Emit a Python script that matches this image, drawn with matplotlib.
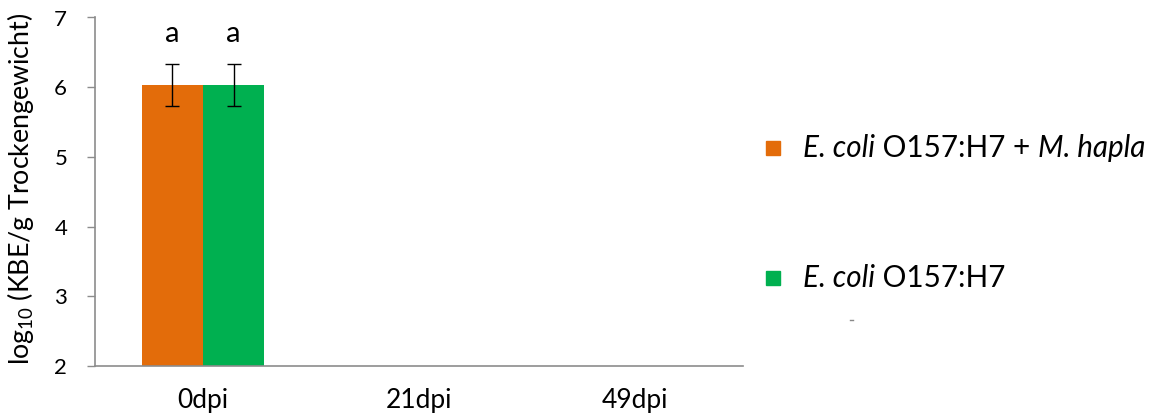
import matplotlib
matplotlib.use("Agg")
import matplotlib.pyplot as plt
import numpy as np

plt.rcParams['font.family'] = ['Lato', 'DejaVu Sans']
plt.rcParams['mathtext.fontset'] = 'custom'
plt.rcParams['mathtext.rm'] = 'Lato'
plt.rcParams['mathtext.it'] = 'Lato:italic'

categories = ["0dpi", "21dpi", "49dpi"]
with_hapla = [6.03, np.nan, np.nan]
with_hapla_err = [0.30, np.nan, np.nan]
ecoli_only = [6.03, np.nan, np.nan]
ecoli_only_err = [0.30, np.nan, np.nan]
letters_hapla = ["a", "", ""]
letters_ecoli = ["a", "", ""]

orange = "#E36C0A"
green = "#00B050"
axis_gray = "#8C8C8C"

W, H = 1149, 419
fig = plt.figure(figsize=(W / 100, H / 100), dpi=100)
ax = fig.add_axes([95 / W, 53 / H, 648 / W, 348.5 / H])

x = np.arange(len(categories))
w = 0.283
base = 2
ax.bar(x - w / 2, np.array(with_hapla) - base, w, bottom=base, color=orange, zorder=2)
ax.bar(x + w / 2, np.array(ecoli_only) - base, w, bottom=base, color=green, zorder=2)
ax.errorbar(x - w / 2, with_hapla, yerr=with_hapla_err, fmt="none",
            ecolor="black", elinewidth=1, capsize=5, capthick=1, zorder=3)
ax.errorbar(x + w / 2, ecoli_only, yerr=ecoli_only_err, fmt="none",
            ecolor="black", elinewidth=1, capsize=5, capthick=1, zorder=3)

for xi, lab in zip(x - w / 2, letters_hapla):
    if lab:
        ax.text(xi, 6.76, lab, ha="center", va="center", fontsize=21)
for xi, lab in zip(x + w / 2, letters_ecoli):
    if lab:
        ax.text(xi, 6.76, lab, ha="center", va="center", fontsize=21)

ax.set_xlim(-0.5, len(categories) - 0.5)
ax.set_ylim(2, 7)
ax.set_yticks(range(2, 8))
ax.set_xticks(x)
ax.set_xticklabels(categories, fontsize=19)
ax.tick_params(axis="x", length=0, pad=16)
ax.tick_params(axis="y", length=6, width=1, color=axis_gray, labelsize=16, pad=14)
for s in ("top", "right"):
    ax.spines[s].set_visible(False)
for s in ("left", "bottom"):
    ax.spines[s].set_color(axis_gray)
    ax.spines[s].set_linewidth(1.2)

fig.text(21 / W, 1 - 189 / H, r"log$_{10}$ (KBE/g Trockengewicht)", fontsize=19.3,
         rotation=90, ha="center", va="center")

# legend drawn as figure-level markers and texts
renderer = fig.canvas.get_renderer()


def legend_entry(y_px, color, parts):
    fig.patches.append(plt.Rectangle((766 / W, 1 - (y_px + 7) / H), 14 / W, 14 / H,
                                     transform=fig.transFigure, color=color))
    xpos = 803 / W
    for txt, style in parts:
        t = fig.text(xpos, 1 - y_px / H, txt, fontsize=21.3, style=style,
                     va="center", ha="left")
        bb = t.get_window_extent(renderer=renderer)
        xpos = bb.x1 / W


legend_entry(148, orange, [("E. coli", "italic"), (" O157:H7 + ", "normal"), ("M. hapla", "italic")])
legend_entry(278, green, [("E. coli", "italic"), (" O157:H7", "normal")])
fig.add_artist(plt.Line2D([850 / W, 853 / W], [1 - 320 / H] * 2, color="#888888", lw=1,
                          transform=fig.transFigure))

fig.savefig("out.png", dpi=100)
